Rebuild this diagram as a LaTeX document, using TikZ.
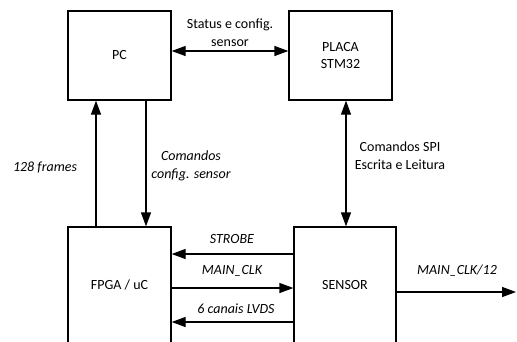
\documentclass[tikz,border=0pt]{standalone}
\usepackage{fontspec}
\setmainfont{Carlito}
\usetikzlibrary{arrows.meta}
\begin{document}
\begin{tikzpicture}[x=1pt,y=-1pt,
  blk/.style={draw, line width=1.3pt, inner sep=0pt, font=\fontsize{14}{17}\selectfont, align=center},
  conn/.style={line width=1.3pt, -{Triangle[length=14pt,width=10pt]}},
  conn2/.style={line width=1.3pt, {Triangle[length=14pt,width=10pt]}-{Triangle[length=14pt,width=10pt]}},
  lbl/.style={font=\fontsize{14}{18}\selectfont\itshape, align=center, inner sep=0pt},
  lblu/.style={font=\fontsize{14}{18}\selectfont, align=center, inner sep=0pt}
]
\useasboundingbox (0,0) rectangle (517,341);
\clip (0,0) rectangle (517,341);
\node[blk, minimum width=103pt, minimum height=89pt] (pc) at (119.5,55.5) {PC};
\node[blk, minimum width=103pt, minimum height=89pt] (placa) at (340.5,55.5) {PLACA\\STM32};
\node[blk, minimum width=103pt, minimum height=116pt] (fpga) at (119.5,285) {FPGA / uC};
\node[blk, minimum width=102pt, minimum height=116pt] (sensor) at (345,285) {SENSOR};
\coordinate (out) at (516,292);

\draw[conn2] (pc.east |- 0,51) -- (placa.west |- 0,51);
\draw[conn] (fpga.north -| 96,0) -- (pc.south -| 96,0);
\draw[conn] (pc.south -| 146,0) -- (fpga.north -| 146,0);
\draw[conn2] (placa.south -| 346,0) -- (sensor.north -| 346,0);
\draw[conn] (sensor.west |- 0,254) -- (fpga.east |- 0,254);
\draw[conn] (fpga.east |- 0,288) -- (sensor.west |- 0,288);
\draw[conn] (sensor.west |- 0,322) -- (fpga.east |- 0,322);
\draw[conn] (sensor.east |- 0,292) -- (out);

\node[lblu] (l1) at (230,33) {Status e config.\\sensor};
\node[lbl] (l2) at (45,168) {128 frames};
\node[lbl] (l3) at (191,166) {Comandos\\config. sensor};
\node[lblu] (l4) at (400,156) {Comandos SPI\\Escrita e Leitura};
\node[lbl] (l5) at (232,239) {STROBE};
\node[lbl] (l6) at (232,271) {MAIN\_CLK};
\node[lbl] (l7) at (236,309) {6 canais LVDS};
\node[lbl] (l8) at (457,271) {MAIN\_CLK/12};
\end{tikzpicture}
\end{document}
